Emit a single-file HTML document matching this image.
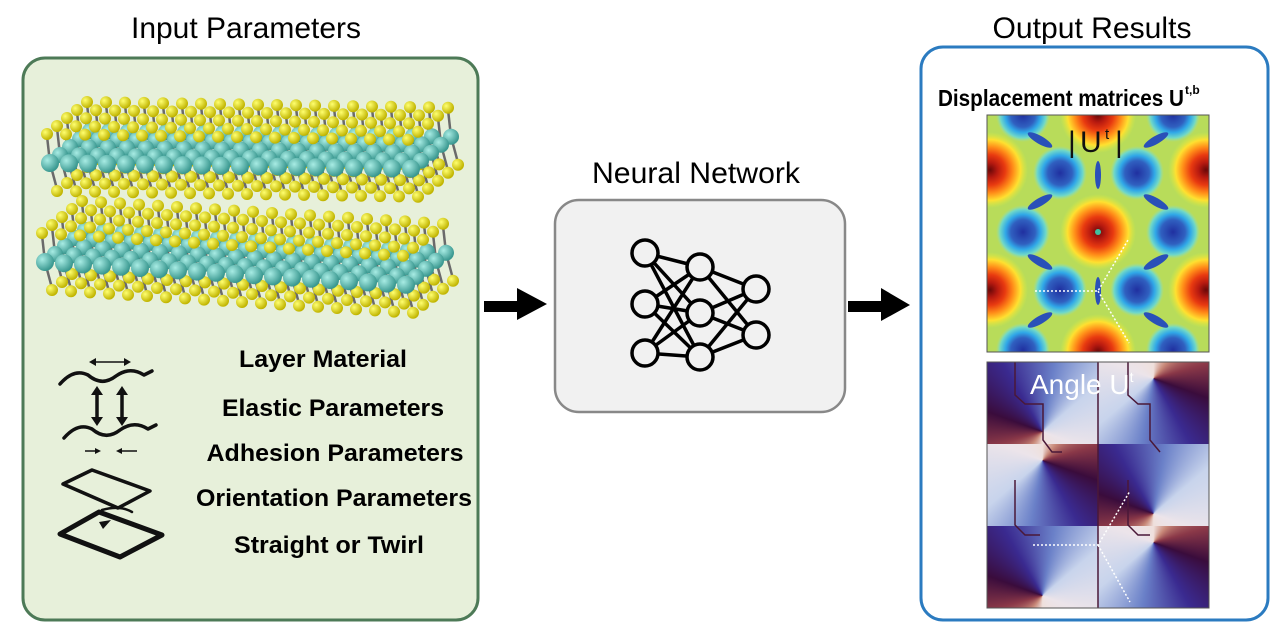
<!DOCTYPE html>
<html><head><meta charset="utf-8"><style>
html,body{margin:0;padding:0;background:#fff;width:1280px;height:625px;overflow:hidden}
svg{display:block}
text{font-family:"Liberation Sans",sans-serif}
.ang{position:absolute;left:987px;top:362px;width:222px;height:246px;overflow:hidden;background:#5a2850}
.cell{position:absolute;width:111px;height:82px}
</style></head><body>
<div style="position:relative;width:1280px;height:625px">
<svg id="s" width="1280" height="625" viewBox="0 0 1280 625" style="position:absolute;left:0;top:0">
<defs>
<radialGradient id="tl" cx="35%" cy="35%" r="65%"><stop offset="0" stop-color="#a8ece4"/><stop offset="1" stop-color="#3a9890"/></radialGradient>
<radialGradient id="yl" cx="35%" cy="35%" r="65%"><stop offset="0" stop-color="#ffff70"/><stop offset="1" stop-color="#c0b400"/></radialGradient>
<radialGradient id="red"><stop offset="0" stop-color="#6a0808"/><stop offset="0.2" stop-color="#b81a10"/><stop offset="0.4" stop-color="#e83a10"/><stop offset="0.6" stop-color="#ff8a18"/><stop offset="0.8" stop-color="#ffe030"/><stop offset="1" stop-color="#d8ec40" stop-opacity="0"/></radialGradient>
<radialGradient id="blue"><stop offset="0" stop-color="#2030a0"/><stop offset="0.45" stop-color="#3060c0"/><stop offset="0.65" stop-color="#30a8e8"/><stop offset="0.85" stop-color="#70d8c8"/><stop offset="1" stop-color="#a0e0a0" stop-opacity="0"/></radialGradient>
<clipPath id="c1"><rect x="987" y="115" width="222" height="237"/></clipPath>
</defs>
<text x="246" y="38" font-size="30" text-anchor="middle" textLength="230" lengthAdjust="spacingAndGlyphs">Input Parameters</text>
<text x="1092" y="38" font-size="30" text-anchor="middle" textLength="199" lengthAdjust="spacingAndGlyphs">Output Results</text>
<text x="696" y="183" font-size="30" text-anchor="middle" textLength="208" lengthAdjust="spacingAndGlyphs">Neural Network</text>

<rect x="23" y="58" width="455" height="562" rx="22" fill="#e7f0da" stroke="#4d7a57" stroke-width="3"/>
<g id="mol"></g>

<g font-weight="bold" font-size="24" text-anchor="middle">
<text x="323" y="367" textLength="168" lengthAdjust="spacingAndGlyphs">Layer Material</text>
<text x="333" y="416" textLength="222" lengthAdjust="spacingAndGlyphs">Elastic Parameters</text>
<text x="335" y="461" textLength="257" lengthAdjust="spacingAndGlyphs">Adhesion Parameters</text>
<text x="334" y="506" textLength="276" lengthAdjust="spacingAndGlyphs">Orientation Parameters</text>
<text x="329" y="553" textLength="190" lengthAdjust="spacingAndGlyphs">Straight or Twirl</text>
</g>
<g fill="none" stroke="#111" stroke-width="3.5" stroke-linecap="round" stroke-linejoin="round">
<path d="M60 384 Q74 368 88 375 Q102 387 116 376 Q130 366 144 375 L152 371"/>
<path d="M64 438 Q78 422 92 429 Q106 441 120 430 Q134 420 148 429 L156 425"/>
<path d="M63 484 L92 470 L150 491 L118 508 Z"/>
<path d="M60 534 L99 512 L162 535 L120 557 Z" stroke-width="5"/>
<path d="M102 510 Q120 505 132 512" stroke-width="2.5"/>
</g>
<g stroke="#111" fill="#111">
<line x1="93" y1="362" x2="127" y2="362" stroke-width="1.5"/><path d="M89 362 l7 -4 v8z M131 362 l-7 -4 v8z" stroke="none"/>
<line x1="97" y1="392" x2="97" y2="420" stroke-width="3.5"/><path d="M97 386 l-6 9 h12z M97 426 l-6 -9 h12z" stroke="none"/>
<line x1="122" y1="392" x2="122" y2="420" stroke-width="3.5"/><path d="M122 386 l-6 9 h12z M122 426 l-6 -9 h12z" stroke="none"/>
<line x1="85" y1="451" x2="97" y2="451" stroke-width="1.5"/><path d="M101 451 l-6 -3 v6z" stroke="none"/>
<line x1="120" y1="451" x2="137" y2="451" stroke-width="1.5"/><path d="M116 451 l6 -3 v6z" stroke="none"/>
<path d="M99 522 l12 -2 l-8 9z" stroke="none"/>
</g>

<path d="M484 301 H517 V288 L547 304 L517 320 V312 H484Z" fill="#000"/>
<path d="M848 301 H881 V288 L910 305 L881 321 V312 H848Z" fill="#000"/>

<rect x="555" y="200" width="290" height="212" rx="24" fill="#f1f1f1" stroke="#888" stroke-width="2.5"/>
<g stroke="#000" stroke-width="3.5" fill="none" id="nn"></g>

<rect x="921" y="47" width="347" height="573" rx="22" fill="#fff" stroke="#2b7bc0" stroke-width="3"/>
<text x="938" y="106" font-size="23" font-weight="bold" textLength="246" lengthAdjust="spacingAndGlyphs">Displacement matrices U</text>
<text x="1185" y="94" font-size="12" font-weight="bold">t,b</text>

<g clip-path="url(#c1)">
<rect x="987" y="115" width="222" height="237" fill="#b8dc5a"/>
<g id="hm"></g>
</g>
<rect x="987" y="115" width="222" height="237" fill="none" stroke="#555" stroke-width="1"/>
<g font-size="30" fill="#111"><text x="1068" y="152">|</text><text x="1080" y="152">U</text><text x="1105" y="139" font-size="15">t</text><text x="1115" y="152">|</text></g>
<g stroke="#fff" stroke-width="1.5" stroke-dasharray="2 2" fill="none"><path d="M1035 291 H1098 L1128 240 M1098 291 L1129 343"/></g>
</svg>
<div class="ang" id="ang"></div>
<svg width="1280" height="625" style="position:absolute;left:0;top:0;pointer-events:none">
<g stroke="#4a1838" stroke-width="1.5" fill="none">
<path d="M1015 362 V395 L1025 404 H1043 V440 L1052 452 H1062"/>
<path d="M1128 362 V395 L1138 404 H1150 V440 L1160 452"/>
<path d="M1098 362 V608"/>
<path d="M1015 480 V525 L1025 535 H1040 M1128 480 V525 L1138 535 H1150"/>
</g>
<rect x="987" y="362" width="222" height="246" fill="none" stroke="#555"/>
<text x="1030" y="394" font-size="28" fill="#fff">Angle U<tspan font-size="14" dy="-12">t</tspan></text>
<g stroke="#fff" stroke-width="1.5" stroke-dasharray="2 2" fill="none"><path d="M1033 545 H1098 L1130 491 M1098 545 L1130 602"/></g>
</svg>
</div>
<script>
var NS="http://www.w3.org/2000/svg";
function el(p,t,a){var e=document.createElementNS(NS,t);for(var k in a)e.setAttribute(k,a[k]);p.appendChild(e);return e;}
var mol=document.getElementById('mol');
function layer(x0,y0,dyx,nj){
  var atoms=[];
  for(var k=4;k>=0;k--){for(var j=0;j<nj;j++){
    var bx=x0+j*19+k*10, by=y0+j*dyx-k*8;
    atoms.push([bx,by,k]);
  }}
  atoms.forEach(function(a){
    el(mol,'line',{x1:a[0],y1:a[1],x2:a[0]+7,y2:a[1]+26,stroke:'#6a6a6a','stroke-width':2.5});
    el(mol,'line',{x1:a[0],y1:a[1],x2:a[0]-3,y2:a[1]-27,stroke:'#6a6a6a','stroke-width':2.5});
  });
  atoms.forEach(function(a){el(mol,'circle',{cx:a[0]+7,cy:a[1]+28,r:6,fill:'url(#yl)'});});
  atoms.forEach(function(a){el(mol,'circle',{cx:a[0],cy:a[1],r:a[2]==0?9:8,fill:'url(#tl)'});});
  atoms.forEach(function(a){el(mol,'circle',{cx:a[0]-3,cy:a[1]-29,r:6,fill:'url(#yl)'});});
}
layer(50,163,0.3,20);
layer(45,262,1.2,20);
var nn=document.getElementById('nn');
var L=[[[645,253],[645,304],[645,353]],[[700,267],[700,313],[700,357]],[[756,289],[756,335]]];
for(var l=0;l<2;l++)L[l].forEach(function(a){L[l+1].forEach(function(b){el(nn,'line',{x1:a[0],y1:a[1],x2:b[0],y2:b[1]});});});
L.forEach(function(g){g.forEach(function(p){el(nn,'circle',{cx:p[0],cy:p[1],r:13,fill:'#f1f1f1'});});});
var hm=document.getElementById('hm');
[[1098,232],[990,170],[1206,170],[990,290],[1206,290],[1098,115],[1098,352]].forEach(function(p){el(hm,'circle',{cx:p[0],cy:p[1],r:38,fill:'url(#red)'});});
[[1060,173],[1137,173],[1023,232],[1173,232],[1060,290],[1137,290],[1023,350],[1173,350],[1023,115],[1173,115]].forEach(function(p){el(hm,'circle',{cx:p[0],cy:p[1],r:27,fill:'url(#blue)'});});
[[1040,202,-30],[1156,202,30],[1040,262,30],[1156,262,-30],[1040,320,-30],[1156,320,30],[1040,140,30],[1156,140,-30]].forEach(function(p){el(hm,'ellipse',{cx:p[0],cy:p[1],rx:14,ry:4,fill:'#2a50b8',transform:'rotate('+p[2]+' '+p[0]+' '+p[1]+')'});});
el(hm,'ellipse',{cx:1098,cy:175,rx:3,ry:14,fill:'#2a50b8'});
el(hm,'ellipse',{cx:1098,cy:291,rx:3,ry:14,fill:'#2a50b8'});
el(hm,'circle',{cx:1098,cy:232,r:3,fill:'#40c0a0'});
var ang=document.getElementById('ang');
var g1="conic-gradient(from 180deg at 50% 85%, #efe0dc 0deg,#c88878 40deg,#8a3848 75deg,#3a0c3c 110deg,#3a2a90 150deg,#6a80c8 190deg,#c8d4ec 230deg,#ece4ea 290deg,#efe0dc 360deg)";
var g2="conic-gradient(from 0deg at 50% 20%, #efe0dc 0deg,#c88878 40deg,#8a3848 75deg,#3a0c3c 110deg,#3a2a90 150deg,#6a80c8 190deg,#c8d4ec 230deg,#ece4ea 290deg,#efe0dc 360deg)";
for(var r=0;r<3;r++)for(var c=0;c<2;c++){var d=document.createElement('div');d.className='cell';d.style.left=(c*111)+'px';d.style.top=(r*82)+'px';d.style.background=(r+c)%2?g2:g1;ang.appendChild(d);}
</script>
</body></html>
